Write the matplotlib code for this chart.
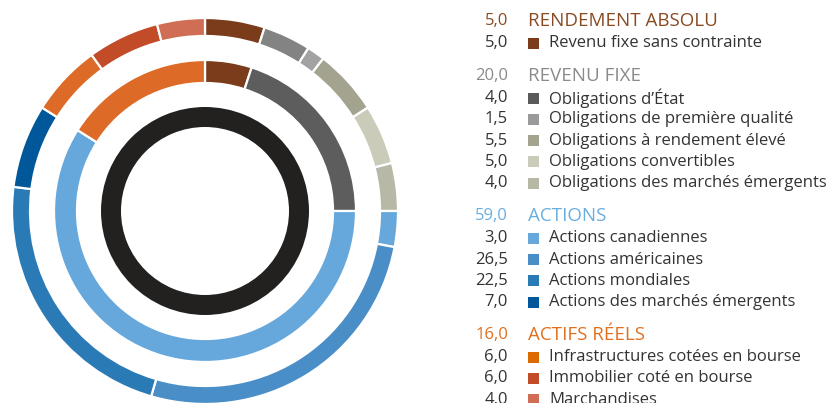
import numpy as np
import matplotlib
matplotlib.use("Agg")
import matplotlib.pyplot as plt
from matplotlib.patches import Rectangle

# groupes (anneau du milieu)
groups = ["RENDEMENT ABSOLU", "REVENU FIXE", "ACTIONS", "ACTIFS RÉELS"]
group_vals = [5.0, 20.0, 59.0, 16.0]
group_cols = ["#7b3c1c", "#5d5d5d", "#67a8dc", "#dd6a27"]
group_txt = ["#8a4a22", "#8a8a8a", "#6aaee0", "#e07020"]

# sous-catégories (anneau extérieur)
items = [
    ["Revenu fixe sans contrainte"],
    ["Obligations d\u2019État", "Obligations de première qualité",
     "Obligations à rendement élevé", "Obligations convertibles",
     "Obligations des marchés émergents"],
    ["Actions canadiennes", "Actions américaines", "Actions mondiales",
     "Actions des marchés émergents"],
    ["Infrastructures cotées en bourse", "Immobilier coté en bourse",
     "Marchandises"],
]
item_vals = [
    [5.0],
    [4.0, 1.5, 5.5, 5.0, 4.0],
    [3.0, 26.5, 22.5, 7.0],
    [6.0, 6.0, 4.0],
]
ring_cols = [
    ["#7b3c1c"],
    ["#838383", "#a2a2a2", "#a3a390", "#cbcbb9", "#b8b8a6"],
    ["#67a8dc", "#4a8ec8", "#2a7ab6", "#00579a"],
    ["#dd6a27", "#c24b28", "#d06e55"],
]
key_cols = [
    ["#7b3c1c"],
    ["#5a5a5a", "#9a9a9a", "#a3a390", "#cbcbb9", "#b8b8a6"],
    ["#67a8dc", "#4a8ec8", "#2a7ab6", "#00579a"],
    ["#dd6a00", "#c24b28", "#d06e55"],
]


def fmt(v):
    return f"{v:.1f}".replace(".", ",")


W, H = 834, 403
fig = plt.figure(figsize=(W / 100, H / 100), dpi=100)

# anneaux
cx, cy = 205, 211
R = 196
ax = fig.add_axes([(cx - R) / W, (H - cy - R) / H, 2 * R / W, 2 * R / H])
wp = dict(edgecolor="white", linewidth=1.6)
ax.pie(sum(item_vals, []), colors=sum(ring_cols, []), radius=193,
       startangle=90, counterclock=False,
       wedgeprops=dict(width=18, **wp))
ax.pie(group_vals, colors=group_cols, radius=151,
       startangle=90, counterclock=False,
       wedgeprops=dict(width=23, **wp))
ax.pie([sum(group_vals)], colors=["#232120"], radius=104,
       startangle=90, counterclock=False,
       wedgeprops=dict(width=20, linewidth=0))
ax.set_xlim(-R, R)
ax.set_ylim(-R, R)
ax.set_aspect("equal")
ax.axis("off")

# légende
lg = fig.add_axes([0, 0, 1, 1])
lg.set_xlim(0, W)
lg.set_ylim(H, 0)
lg.axis("off")

font = "Open Sans"
fs = 12
y = 21
for g, gv, gc, its, ivs, kc in zip(groups, group_vals, group_txt, items, item_vals, key_cols):
    lg.text(508, y, fmt(gv), ha="right", va="center", color=gc,
            fontsize=fs, family=font)
    lg.text(528, y, g, ha="left", va="center", color=gc,
            fontsize=13.5, family=font)
    y += 22
    for name, v, c in zip(its, ivs, kc):
        lg.text(508, y, fmt(v), ha="right", va="center", color="#333333",
                fontsize=fs, family=font)
        lg.add_patch(Rectangle((528, y - 5.5), 11, 11, color=c, lw=0))
        lg.text(549, y, name, ha="left", va="center", color="#333333",
                fontsize=fs, family=font)
        y += 21.3
    y += 11.7

fig.savefig("out.png", dpi=100)
